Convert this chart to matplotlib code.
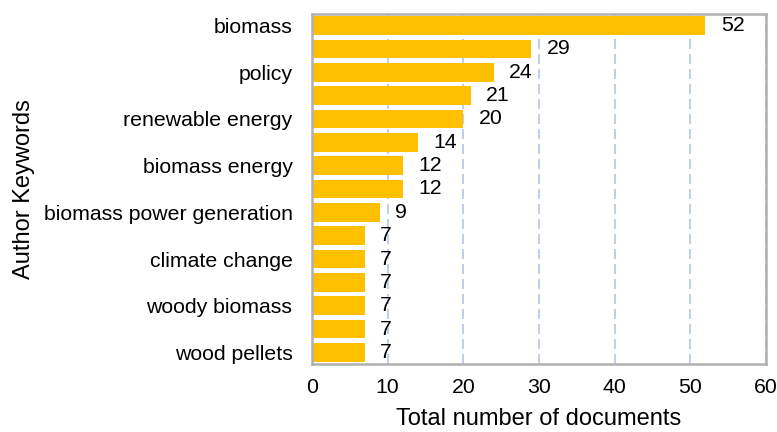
import matplotlib
matplotlib.use("Agg")
import matplotlib.pyplot as plt
import numpy as np

plt.rcParams['font.family'] = ['Liberation Sans', 'DejaVu Sans']

# Keywords (only every other label is shown in the original chart)
keywords = ["biomass", "", "policy", "", "renewable energy", "",
            "biomass energy", "", "biomass power generation", "",
            "climate change", "", "woody biomass", "", "wood pellets"]
documents = [52, 29, 24, 21, 20, 14, 12, 12, 9, 7, 7, 7, 7, 7, 7]
x_ticks = [0, 10, 20, 30, 40, 50, 60]

fig = plt.figure(figsize=(7.77, 4.32), dpi=100)
ax = fig.add_axes([0.4015, 0.1574, 0.5843, 0.8102])

pos = np.arange(len(documents))
ax.barh(pos, documents, height=0.8, color='#FFC000', zorder=2)

# value labels to the right of each bar
for p, v in zip(pos, documents):
    ax.annotate(str(v), xy=(v, p), xytext=(11, 0), textcoords='offset points',
                va='center', ha='left', fontsize=15.3, color='black', zorder=3)

ax.set_ylim(len(documents) - 0.5, -0.5)
ax.set_xlim(0, 60)
ax.set_xticks(x_ticks)
ax.set_yticks(pos)
ax.set_yticklabels(keywords)

ax.tick_params(axis='y', length=0, pad=14, labelsize=15.3)
ax.tick_params(axis='x', length=0, pad=10, labelsize=15.3)

# dashed vertical gridlines
ax.xaxis.grid(True, color='#B4C7E7', linestyle=(0, (6, 3)), linewidth=1.2, zorder=1)
ax.set_axisbelow(True)

for s in ax.spines.values():
    s.set_color('#B0B0B0')
    s.set_linewidth(1.8)

ax.set_xlabel('Total number of documents', fontsize=17, labelpad=8)
ax.set_ylabel('Author Keywords', fontsize=17)
ax.yaxis.set_label_coords(-0.61, 0.5)

fig.savefig('out.png', dpi=100)
